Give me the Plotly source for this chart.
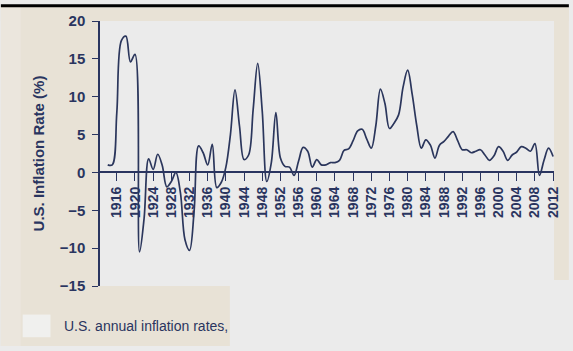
import plotly.graph_objects as go

years = list(range(1914, 2013))
inflation = [1.0, 1.0, 7.9, 17.4, 18.0, 14.6, 15.6, -10.5, -6.1, 1.8,
             0.4, 2.4, 0.9, -1.9, -1.2, 0.0, -2.7, -8.9, -10.3, -5.2,
             3.5, 2.6, 1.0, 3.7, -2.0, -1.3, 0.7, 5.0, 10.9, 6.1,
             1.7, 2.3, 8.3, 14.4, 8.1, -1.2, 1.3, 7.9, 1.9, 0.8,
             0.7, -0.4, 1.5, 3.3, 2.8, 0.7, 1.7, 1.0, 1.0, 1.3,
             1.3, 1.6, 2.9, 3.1, 4.2, 5.5, 5.7, 4.4, 3.2, 6.2,
             11.0, 9.1, 5.8, 6.5, 7.6, 11.3, 13.5, 10.3, 6.2, 3.2,
             4.3, 3.6, 1.9, 3.6, 4.1, 4.8, 5.4, 4.2, 3.0, 3.0,
             2.6, 2.8, 3.0, 2.3, 1.6, 2.2, 3.4, 2.8, 1.6, 2.3,
             2.7, 3.4, 3.2, 2.8, 3.8, -0.4, 1.6, 3.2, 2.1]
x_ticks = list(range(1916, 2013, 4))
x_tick_labels = [str(y) for y in x_ticks]
y_ticks = [-15, -10, -5, 0, 5, 10, 15, 20]
y_tick_labels = ["\u221215", "\u221210", "\u22125", "0", "5", "10", "15", "20"]

NAVY = "#2a3560"
BEIGE = "#e8e2d6"
LIGHT = "#ebebeb"
W, H = 573, 351
L, R, T, B = 100, 15, 17, 65
PW, PH = W - L - R, H - T - B


def px_x(px):
    return (px - L) / PW


def px_y(py):
    return (H - B - py) / PH


def rect(x0, y0, x1, y1, color):
    return dict(type="rect", xref="paper", yref="paper",
                x0=px_x(x0), x1=px_x(x1), y0=px_y(y1), y1=px_y(y0),
                fillcolor=color, line=dict(width=0), layer="below")


fig = go.Figure()
fig.add_trace(go.Scatter(
    x=years, y=inflation, mode="lines",
    line=dict(color="#2b365c", width=1.7, shape="spline", smoothing=1.0),
    showlegend=False, hoverinfo="skip"))

shapes = [
    rect(0, 3, 573, 17, BEIGE),
    rect(0, 3, 100, 347, BEIGE),
    rect(0, 286, 231, 347, BEIGE),
    rect(558, 3, 573, 280, BEIGE),
    rect(0, 3, 20, 347, "#ebe6dd"),
    rect(0, 0, 573, 3, "#000000"),
    rect(22, 315, 50, 338, "#f0f0ee"),
]

fig.update_layout(
    width=W, height=H,
    margin=dict(l=L, r=R, t=T, b=B),
    paper_bgcolor=LIGHT, plot_bgcolor=LIGHT,
    font=dict(family="Liberation Sans, Arial, sans-serif", color=NAVY, size=14),
    shapes=shapes,
    annotations=[dict(text="U.S. annual inflation rates,", xref="paper", yref="paper",
                      x=px_x(62), y=px_y(327), xanchor="left", yanchor="middle",
                      showarrow=False, font=dict(size=14, color=NAVY))],
    xaxis=dict(range=[1912.3, 2012.2], anchor="free", position=15 / 35,
               showline=True, linecolor=NAVY, linewidth=1.5,
               ticks="outside", ticklen=8, tickcolor=NAVY, tickwidth=1,
               tickvals=x_ticks, ticktext=x_tick_labels, tickangle=-90,
               tickfont=dict(size=14, color=NAVY, weight="bold"),
               showgrid=False, zeroline=False),
    yaxis=dict(range=[-15, 20], showline=True, linecolor=NAVY, linewidth=1.5,
               ticks="outside", ticklen=6, tickcolor=NAVY, tickwidth=1,
               tickvals=y_ticks, ticktext=y_tick_labels,
               ticklabelstandoff=4,
               tickfont=dict(size=15, color=NAVY, weight="bold"),
               showgrid=False, zeroline=False,
               title=dict(text="<b>U.S. Inflation Rate (%)</b>", standoff=12,
                          font=dict(size=15, color=NAVY))),
)

fig.write_html("out.html")
